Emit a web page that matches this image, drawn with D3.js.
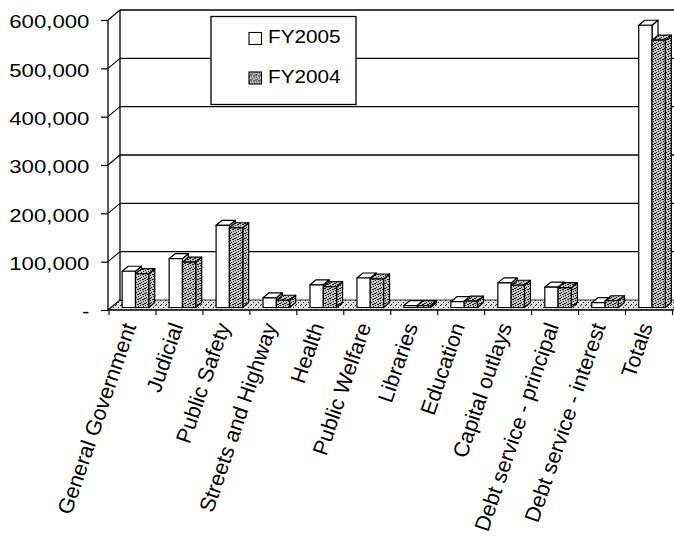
<!DOCTYPE html>
<html>
<head>
<meta charset="utf-8">
<script src="https://cdn.jsdelivr.net/npm/d3@7"></script>
<style>
  body { margin: 0; background: #fff; }
  svg { display: block; }
  text { font-family: "Liberation Sans", Arial, Helvetica, sans-serif; fill: #000; }
</style>
</head>
<body>
<svg id="chart" width="674" height="538"></svg>
<script>
// Expenditures by function, FY2005 vs FY2004
const categories = ["General Government", "Judicial", "Public Safety", "Streets and Highway",
  "Health", "Public Welfare", "Libraries", "Education", "Capital outlays",
  "Debt service - principal", "Debt service - interest", "Totals"];
const seriesNames = ["FY2005", "FY2004"];
const fy2005 = [75000, 101000, 170000, 20000, 47000, 61000, 4000, 12000, 51000, 42000, 10000, 584000];
const fy2004 = [70000, 94000, 165000, 15000, 43000, 59000, 4000, 13000, 46000, 41000, 14000, 553000];
const yTicks = [0, 100000, 200000, 300000, 400000, 500000, 600000];

const svg = d3.select("#chart");
const defs = svg.append("defs");

// stippled fills
function stipple(id, bg, dots) {
  const p = defs.append("pattern").attr("id", id)
    .attr("patternUnits", "userSpaceOnUse").attr("width", 5).attr("height", 5);
  p.append("rect").attr("width", 5).attr("height", 5).attr("fill", bg);
  dots.forEach(([dx, dy]) => p.append("rect").attr("x", dx).attr("y", dy)
    .attr("width", 1).attr("height", 1).attr("fill", "#1a1a1a"));
}
stipple("stipDark", "#c4c4c4", [[0, 0], [3, 1], [1, 2], [4, 3], [2, 4], [0, 3], [3, 4]]);
stipple("stipLight", "#dedede", [[0, 0], [3, 2], [1, 4]]);
const fills = { FY2005: "#ffffff", FY2004: "url(#stipDark)" };

// 3-D geometry: depth vector of the floor, bars occupy its middle half
const depth = { x: 12, y: -10 };
const frontX0 = 108, frontX1 = 672.5;

const x = d3.scaleBand().domain(categories).range([frontX0 + 1, frontX1]).padding(0);
const groupW = 26.6;
const xs = d3.scaleBand().domain(seriesNames).range([0, groupW]).padding(0);
const y = d3.scaleLinear().domain([0, 600000]).range([310, 20]);

const line = (x1, y1, x2, y2, w = 1.3) => svg.append("line")
  .attr("x1", x1).attr("y1", y1).attr("x2", x2).attr("y2", y2)
  .attr("stroke", "#000").attr("stroke-width", w);

// floor
const floorRight = 700;
svg.append("path")
  .attr("d", `M${frontX0},${y(0)}L${floorRight},${y(0)}L${floorRight + depth.x},${y(0) + depth.y}L${frontX0 + depth.x},${y(0) + depth.y}Z`)
  .attr("fill", "url(#stipLight)").attr("stroke", "none");

// back wall gridlines and side wall
yTicks.forEach(t => {
  if (t > 0) line(frontX0 + depth.x, y(t) + depth.y, 700, y(t) + depth.y, 1.4);
  line(frontX0, y(t), frontX0 + depth.x, y(t) + depth.y, 1.1);
});
line(frontX0 + depth.x, y(0) + depth.y, 700, y(0) + depth.y, 0.8);
line(frontX0 + depth.x, y(600000) + depth.y, frontX0 + depth.x, y(0) + depth.y, 1.3);

// bars
const series = [
  { name: "FY2005", values: fy2005 },
  { name: "FY2004", values: fy2004 }
];
const bd = { x: depth.x / 2, y: depth.y / 2 };
const off = { x: depth.x / 4, y: depth.y / 4 };
const barsG = svg.append("g").attr("stroke", "#000").attr("stroke-width", 1.2).attr("stroke-linejoin", "round");
categories.forEach((cat, i) => {
  series.forEach(s => {
    const v = s.values[i];
    const w = xs.bandwidth();
    const fx = x(cat) + (x.bandwidth() - groupW) / 2 + xs(s.name) + off.x;
    const top = y(v) + off.y, bot = y(0) + off.y;
    const g = barsG.append("g").attr("fill", fills[s.name]);
    g.append("path").attr("d",
      `M${fx + w},${top}L${fx + w + bd.x},${top + bd.y}L${fx + w + bd.x},${bot + bd.y}L${fx + w},${bot}Z`);
    g.append("path").attr("d",
      `M${fx},${top}L${fx + w},${top}L${fx + w + bd.x},${top + bd.y}L${fx + bd.x},${top + bd.y}Z`);
    g.append("rect").attr("x", fx).attr("y", top).attr("width", w).attr("height", Math.max(bot - top, 0.5));
  });
});

// front edges
line(frontX0, y(0), 674, y(0), 1.6);
line(frontX0, y(600000), frontX0, y(0), 1.3);

// value axis
const yAxis = svg.append("g").attr("transform", `translate(${frontX0},0)`)
  .call(d3.axisLeft(y).tickValues(yTicks).tickSize(7).tickPadding(0)
    .tickFormat(d => d === 0 ? "-" : d3.format(",")(d)));
yAxis.select(".domain").remove();
yAxis.selectAll(".tick line").attr("stroke", "#000").attr("stroke-width", 1.2);
yAxis.selectAll(".tick text")
  .attr("font-family", null).attr("font-size", 18.5)
  .attr("x", -15.5).attr("dy", "0.42em")
  .attr("transform", "scale(1.2,1)");

// category axis
const bounds = categories.map(c => x(c)).concat([x(categories[categories.length - 1]) + x.bandwidth()]);
bounds.forEach(b => line(b, y(0), b, y(0) + 5, 1.1));
svg.append("g").selectAll("text").data(categories).join("text")
  .attr("transform", d => `translate(${x(d) + x.bandwidth() / 2 + 4},326) rotate(-71)`)
  .attr("text-anchor", "end")
  .attr("font-size", 21.5)
  .text(d => d);

// legend
const lg = svg.append("g").attr("transform", "translate(211,16.5)");
lg.append("rect").attr("width", 145).attr("height", 88).attr("fill", "#fff")
  .attr("stroke", "#000").attr("stroke-width", 1.3);
seriesNames.forEach((n, k) => {
  const yy = 16 + k * 39.5;
  lg.append("rect").attr("x", 38).attr("y", yy).attr("width", 12.5).attr("height", 12)
    .attr("fill", fills[n]).attr("stroke", "#000").attr("stroke-width", 1.1);
  lg.append("text").attr("transform", `translate(57,${yy + 10.5}) scale(1.12,1)`)
    .attr("font-size", 18.5).text(n);
});
</script>
</body>
</html>
